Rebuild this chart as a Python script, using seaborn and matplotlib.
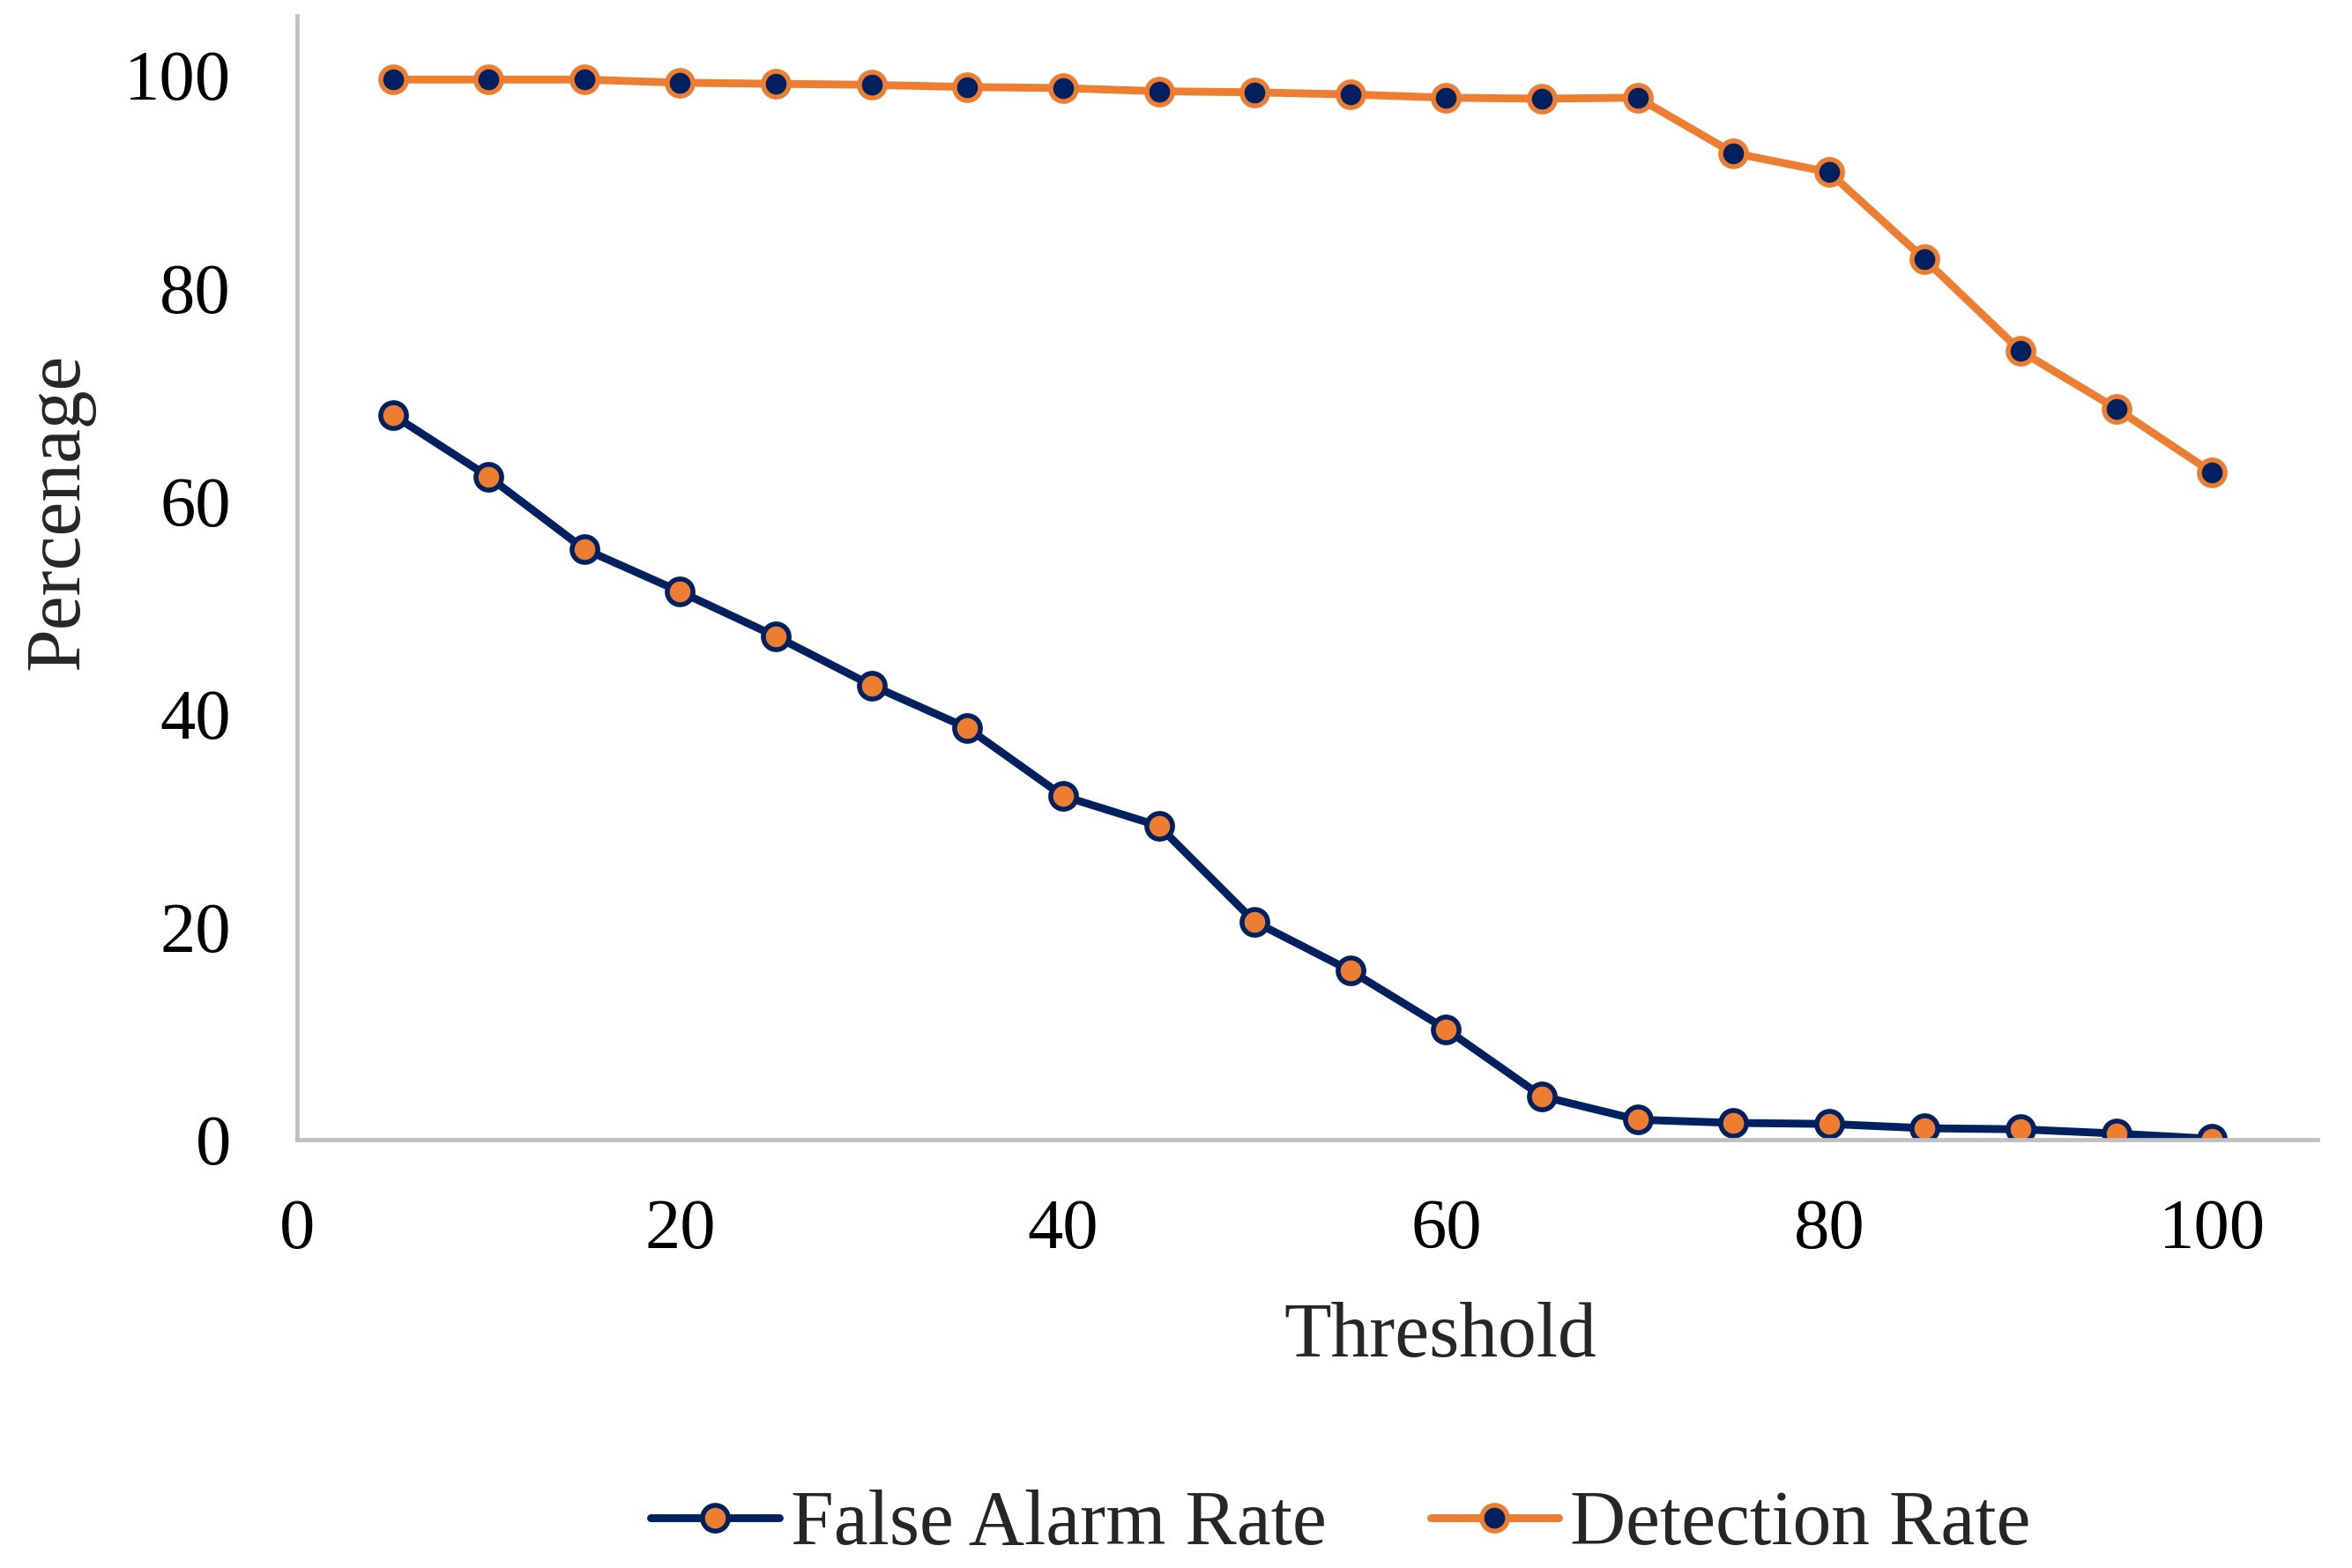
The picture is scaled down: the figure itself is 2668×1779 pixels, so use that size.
import numpy as np
import pandas as pd
import matplotlib
matplotlib.use("Agg")
import matplotlib.pyplot as plt
import seaborn as sns

# --- data ---
threshold = [5, 10, 15, 20, 25, 30, 35, 40, 45, 50,
             55, 60, 65, 70, 75, 80, 85, 90, 95, 100]
false_alarm = [68.1, 62.3, 55.5, 51.5, 47.3, 42.7, 38.7, 32.3, 29.5, 20.5,
               15.9, 10.4, 4.1, 1.9, 1.6, 1.5, 1.1, 1.0, 0.6, 0.1]
detection = [99.6, 99.6, 99.6, 99.3, 99.2, 99.1, 98.9, 98.8, 98.5, 98.4,
             98.2, 97.9, 97.8, 97.9, 92.7, 90.9, 82.7, 74.1, 68.7, 62.7]
x_ticks = [0, 20, 40, 60, 80, 100]
y_ticks = [0, 20, 40, 60, 80, 100]

NAVY = "#002060"
ORANGE = "#ED7D31"
AXIS_GREY = "#BFBFBF"

sns.set_style("white")
plt.rcParams["font.family"] = ["Liberation Serif", "DejaVu Serif"]

df = pd.DataFrame({"Threshold": threshold,
                   "False Alarm Rate": false_alarm,
                   "Detection Rate": detection})

fig = plt.figure(figsize=(13.34, 8.895), dpi=200)
ax = fig.add_axes([0.1263, 0.273, 0.859, 0.717])

# two series, same marker style but colours swapped
sns.lineplot(data=df, x="Threshold", y="False Alarm Rate", ax=ax,
             color=NAVY, linewidth=3.2, marker="o", markersize=10.5,
             markerfacecolor=ORANGE, markeredgecolor=NAVY, markeredgewidth=2.0,
             label="False Alarm Rate")
sns.lineplot(data=df, x="Threshold", y="Detection Rate", ax=ax,
             color=ORANGE, linewidth=3.2, marker="o", markersize=10.5,
             markerfacecolor=NAVY, markeredgecolor=ORANGE, markeredgewidth=2.0,
             label="Detection Rate")

ax.set_xlim(0, 105.5)
ax.set_ylim(0, 105.6)
ax.set_xticks(x_ticks)
ax.set_yticks(y_ticks)
ax.tick_params(axis="both", length=0, labelsize=29, colors="black")
ax.tick_params(axis="y", pad=27)
ax.tick_params(axis="x", pad=24)

for side in ["top", "right"]:
    ax.spines[side].set_visible(False)
for side in ["left", "bottom"]:
    ax.spines[side].set_color(AXIS_GREY)
    ax.spines[side].set_linewidth(1.7)

ax.set_xlabel("Threshold", fontsize=31.5)
ax.set_ylabel("Percenage", fontsize=31.5)
ax.xaxis.set_label_coords(0.566, -0.144)
ax.yaxis.set_label_coords(-0.100, 0.559)

handles, labels = ax.get_legend_handles_labels()
ax.get_legend().remove()
fig.legend(handles, labels, loc="center", bbox_to_anchor=(0.57, 0.027),
           ncol=2, frameon=False, fontsize=31.5, handlelength=1.66,
           handletextpad=0.15, columnspacing=1.35)

fig.savefig("out.png", dpi=200, facecolor="white")
